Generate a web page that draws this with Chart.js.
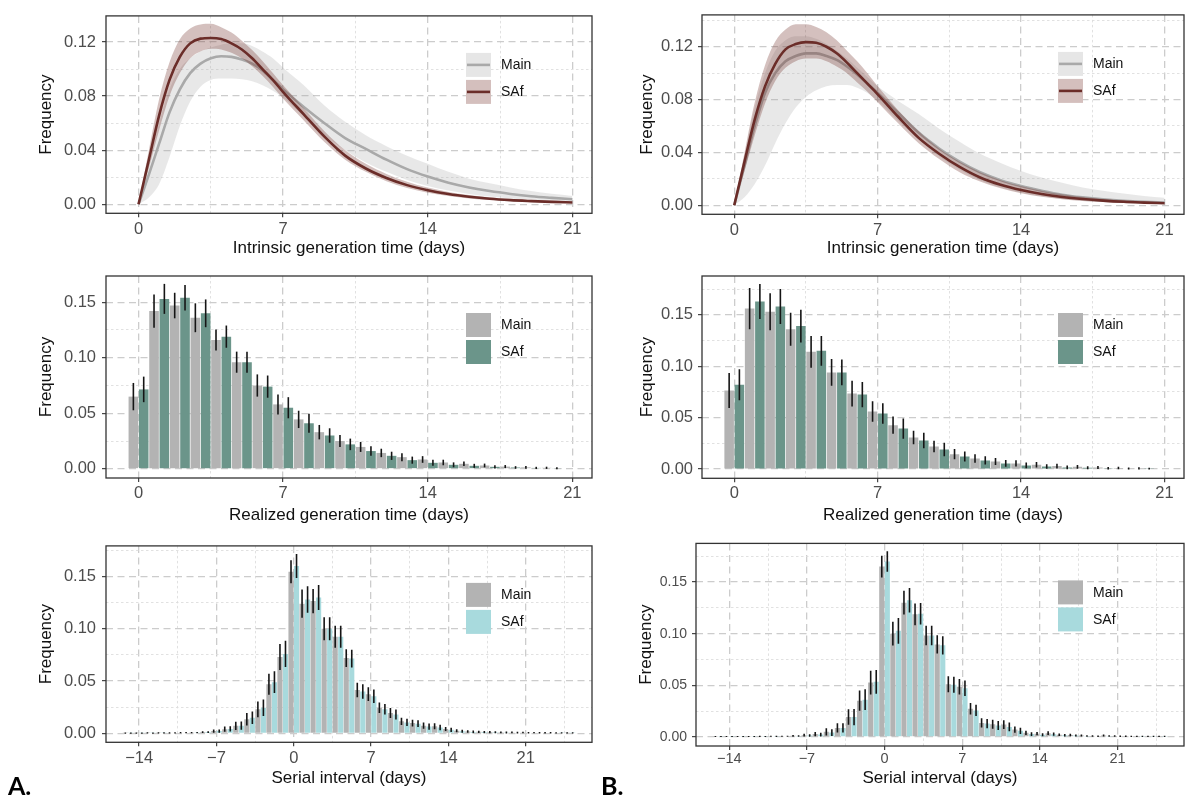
<!DOCTYPE html>
<html>
<head>
<meta charset="utf-8">
<script src="https://cdn.jsdelivr.net/npm/chart.js@4.4.1/dist/chart.umd.min.js"></script>
<style>
    body { margin: 0; background: #fff; width: 1192px; height: 796px; position: relative; overflow: hidden; }
    .panel { position: absolute; }
    .tag { position: absolute; font-family: Lato, "Liberation Sans", sans-serif; font-weight: bold; font-size: 25px; line-height: 25px; color: #000; }
</style>
</head>
<body>
<div class="panel" style="left:0;top:0"><canvas id="a1" width="600" height="260"></canvas></div>
<div class="panel" style="left:0;top:260px"><canvas id="a2" width="600" height="270"></canvas></div>
<div class="panel" style="left:0;top:530px"><canvas id="a3" width="600" height="266"></canvas></div>
<div class="panel" style="left:600px;top:0"><canvas id="b1" width="592" height="260"></canvas></div>
<div class="panel" style="left:600px;top:260px"><canvas id="b2" width="592" height="270"></canvas></div>
<div class="panel" style="left:600px;top:530px"><canvas id="b3" width="592" height="266"></canvas></div>
<div class="tag" style="left:8px;top:773px">A.</div>
<div class="tag" style="left:601px;top:773px">B.</div>
<script>
const FONT = '"Liberation Sans", Arial, sans-serif';

// ---- intrinsic generation time curves (x in days) ----
const curveDays = [0, 0.5, 1, 1.5, 2, 2.5, 3, 3.5, 4, 4.5, 5, 5.5, 6, 6.5, 7, 8, 9, 10, 11, 12, 13, 14, 15, 16, 17, 18, 19, 20, 21];

const a1MainMid = [0, 0.022, 0.045, 0.068, 0.085, 0.097, 0.104, 0.108, 0.1095, 0.109, 0.107, 0.104, 0.099, 0.092, 0.085, 0.072, 0.060, 0.049, 0.041, 0.033, 0.026, 0.0205, 0.016, 0.0125, 0.0098, 0.0077, 0.006, 0.0048, 0.0038];
const a1MainHi = [0, 0.030, 0.060, 0.085, 0.100, 0.108, 0.113, 0.116, 0.118, 0.119, 0.119, 0.117, 0.113, 0.108, 0.101, 0.088, 0.073, 0.061, 0.051, 0.043, 0.036, 0.030, 0.024, 0.019, 0.0155, 0.0125, 0.0098, 0.0078, 0.0062];
const a1MainLo = [0, 0.005, 0.015, 0.035, 0.058, 0.076, 0.087, 0.092, 0.093, 0.093, 0.0925, 0.091, 0.088, 0.084, 0.079, 0.065, 0.051, 0.040, 0.031, 0.024, 0.018, 0.0135, 0.0102, 0.0077, 0.0058, 0.0044, 0.0034, 0.0026, 0.002];
const a1SafMid = [0, 0.033, 0.066, 0.092, 0.109, 0.119, 0.1225, 0.123, 0.1222, 0.119, 0.1145, 0.108, 0.100, 0.092, 0.083, 0.0665, 0.050, 0.036, 0.0265, 0.0195, 0.0142, 0.0104, 0.0076, 0.0056, 0.0041, 0.0031, 0.0024, 0.0018, 0.0014];
const a1SafHi = [0, 0.040, 0.078, 0.105, 0.122, 0.130, 0.133, 0.1335, 0.131, 0.127, 0.121, 0.114, 0.106, 0.097, 0.088, 0.071, 0.054, 0.040, 0.030, 0.0225, 0.0167, 0.0124, 0.0092, 0.0069, 0.0052, 0.004, 0.0032, 0.0026, 0.0021];
const a1SafLo = [0, 0.027, 0.055, 0.080, 0.097, 0.108, 0.113, 0.115, 0.1145, 0.112, 0.108, 0.102, 0.095, 0.087, 0.078, 0.062, 0.046, 0.033, 0.024, 0.017, 0.012, 0.0085, 0.0061, 0.0044, 0.0032, 0.0024, 0.0018, 0.0013, 0.001];

const b1MainMid = [0, 0.030, 0.060, 0.085, 0.100, 0.109, 0.113, 0.115, 0.115, 0.113, 0.110, 0.105, 0.099, 0.092, 0.085, 0.070, 0.055, 0.043, 0.033, 0.025, 0.019, 0.0145, 0.011, 0.008, 0.006, 0.0045, 0.0034, 0.0026, 0.002];
const b1MainHi = [0, 0.038, 0.074, 0.100, 0.117, 0.125, 0.128, 0.128, 0.126, 0.122, 0.117, 0.111, 0.104, 0.097, 0.090, 0.079, 0.069, 0.058, 0.048, 0.039, 0.032, 0.026, 0.021, 0.017, 0.0135, 0.011, 0.0088, 0.007, 0.0057];
const b1MainLo = [0, 0.006, 0.016, 0.030, 0.047, 0.062, 0.074, 0.082, 0.087, 0.090, 0.091, 0.091, 0.089, 0.085, 0.079, 0.064, 0.050, 0.037, 0.027, 0.019, 0.0135, 0.0095, 0.0068, 0.0048, 0.0034, 0.0024, 0.0017, 0.0012, 0.0009];
const b1SafMid = [0, 0.033, 0.065, 0.090, 0.107, 0.118, 0.122, 0.1235, 0.123, 0.120, 0.115, 0.108, 0.100, 0.092, 0.084, 0.067, 0.051, 0.039, 0.029, 0.021, 0.0155, 0.0115, 0.0085, 0.0063, 0.0047, 0.0035, 0.0026, 0.002, 0.0015];
const b1SafHi = [0, 0.040, 0.078, 0.106, 0.124, 0.133, 0.137, 0.137, 0.135, 0.131, 0.125, 0.117, 0.109, 0.100, 0.090, 0.072, 0.056, 0.043, 0.033, 0.025, 0.019, 0.0145, 0.011, 0.0083, 0.0063, 0.0048, 0.0037, 0.0029, 0.0023];
const b1SafLo = [0, 0.026, 0.053, 0.077, 0.094, 0.104, 0.109, 0.111, 0.111, 0.109, 0.105, 0.100, 0.093, 0.086, 0.078, 0.062, 0.047, 0.035, 0.025, 0.018, 0.0128, 0.009, 0.0064, 0.0046, 0.0033, 0.0024, 0.0017, 0.0012, 0.0009];

// ---- realized generation time (bars) ----
const genDays = [0, 1, 2, 3, 4, 5, 6, 7, 8, 9, 10, 11, 12, 13, 14, 15, 16, 17, 18, 19, 20];
const a2Main = [0.065, 0.142, 0.147, 0.136, 0.116, 0.096, 0.075, 0.058, 0.0445, 0.033, 0.025, 0.0197, 0.0143, 0.0105, 0.0084, 0.0057, 0.0045, 0.003, 0.002, 0.0013, 0.0009];
const a2MainErr = [0.0123, 0.015, 0.0115, 0.013, 0.0095, 0.0095, 0.010, 0.009, 0.0078, 0.0065, 0.0054, 0.0045, 0.0038, 0.0036, 0.003, 0.0025, 0.002, 0.0017, 0.0014, 0.0012, 0.001];
const a2Saf = [0.0715, 0.153, 0.154, 0.140, 0.119, 0.096, 0.074, 0.055, 0.041, 0.030, 0.022, 0.016, 0.0117, 0.0078, 0.0054, 0.0036, 0.0027, 0.0018, 0.0012, 0.0008, 0.0005];
const a2SafErr = [0.0115, 0.0135, 0.0115, 0.0125, 0.010, 0.0095, 0.010, 0.0095, 0.0085, 0.0065, 0.0052, 0.0043, 0.0037, 0.0032, 0.0027, 0.0022, 0.0018, 0.0015, 0.0012, 0.001, 0.0008];

const b2Main = [0.0763, 0.156, 0.153, 0.136, 0.114, 0.094, 0.0734, 0.056, 0.0427, 0.0307, 0.022, 0.0145, 0.0103, 0.0074, 0.0055, 0.0042, 0.0029, 0.0022, 0.0015, 0.001, 0.0007];
const b2MainErr = [0.017, 0.020, 0.018, 0.016, 0.0155, 0.013, 0.0125, 0.010, 0.0084, 0.0065, 0.0055, 0.005, 0.0042, 0.0035, 0.003, 0.0026, 0.0022, 0.0018, 0.0015, 0.0012, 0.001];
const b2Saf = [0.082, 0.163, 0.158, 0.139, 0.115, 0.094, 0.0724, 0.054, 0.0394, 0.0278, 0.019, 0.0123, 0.0084, 0.0055, 0.0036, 0.0026, 0.0016, 0.0013, 0.0009, 0.0006, 0.0004];
const b2SafErr = [0.015, 0.017, 0.017, 0.016, 0.0145, 0.0125, 0.0122, 0.010, 0.0099, 0.0076, 0.0065, 0.0049, 0.004, 0.0033, 0.0028, 0.0022, 0.0018, 0.0015, 0.0012, 0.001, 0.0008];

// ---- serial interval (bars) ----
const siDays = [-15, -14, -13, -12, -11, -10, -9, -8, -7, -6, -5, -4, -3, -2, -1, 0, 1, 2, 3, 4, 5, 6, 7, 8, 9, 10, 11, 12, 13, 14, 15, 16, 17, 18, 19, 20, 21, 22, 23, 24, 25];
const a3Main = [0.0003, 0.0003, 0.0004, 0.0004, 0.0005, 0.0006, 0.0008, 0.0012, 0.0022, 0.0040, 0.0072, 0.0135, 0.0230, 0.0470, 0.0730, 0.1545, 0.1240, 0.1265, 0.1000, 0.0925, 0.0720, 0.0415, 0.0375, 0.0245, 0.0195, 0.0115, 0.0098, 0.0074, 0.0068, 0.0042, 0.0025, 0.0018, 0.0015, 0.0012, 0.0010, 0.0009, 0.0008, 0.0007, 0.0006, 0.0005, 0.0004];
const a3MainErr = [0.0006, 0.0006, 0.0006, 0.0006, 0.0006, 0.0006, 0.0006, 0.0008, 0.0015, 0.0025, 0.004, 0.006, 0.0075, 0.010, 0.0125, 0.011, 0.0135, 0.0115, 0.011, 0.0105, 0.0085, 0.007, 0.0065, 0.005, 0.0048, 0.0035, 0.0033, 0.003, 0.0028, 0.002, 0.0015, 0.0013, 0.0011, 0.001, 0.0009, 0.0008, 0.0008, 0.0007, 0.0007, 0.0006, 0.0006];
const a3Saf = [0.0003, 0.0003, 0.0003, 0.0004, 0.0005, 0.0006, 0.0008, 0.0012, 0.0022, 0.0042, 0.0074, 0.0150, 0.0245, 0.0490, 0.0760, 0.1600, 0.1280, 0.1300, 0.1000, 0.0925, 0.0715, 0.0400, 0.0355, 0.0230, 0.0180, 0.0105, 0.0093, 0.0065, 0.0056, 0.0034, 0.0020, 0.0014, 0.0012, 0.0010, 0.0008, 0.0007, 0.0006, 0.0005, 0.0005, 0.0004, 0.0004];
const a3SafErr = [0.0006, 0.0006, 0.0006, 0.0006, 0.0006, 0.0006, 0.0006, 0.0008, 0.0015, 0.0025, 0.004, 0.006, 0.0078, 0.0105, 0.0125, 0.0115, 0.0127, 0.012, 0.011, 0.0105, 0.0085, 0.007, 0.0065, 0.005, 0.0048, 0.0035, 0.0033, 0.003, 0.0027, 0.002, 0.0015, 0.0013, 0.0011, 0.001, 0.0009, 0.0008, 0.0008, 0.0007, 0.0007, 0.0006, 0.0006];

const b3Main = [0.0002, 0.0002, 0.0003, 0.0003, 0.0004, 0.0005, 0.0006, 0.0009, 0.0016, 0.0026, 0.0048, 0.0086, 0.0191, 0.0350, 0.0526, 0.1650, 0.1000, 0.1300, 0.1187, 0.0982, 0.0896, 0.0510, 0.0485, 0.0272, 0.0134, 0.0122, 0.0118, 0.0070, 0.0038, 0.0030, 0.0035, 0.0020, 0.0018, 0.0012, 0.0008, 0.0012, 0.0008, 0.0006, 0.0005, 0.0005, 0.0004];
const b3MainErr = [0.0005, 0.0005, 0.0005, 0.0005, 0.0005, 0.0005, 0.0005, 0.0008, 0.0014, 0.002, 0.0035, 0.0045, 0.0075, 0.0098, 0.0115, 0.0105, 0.0115, 0.0115, 0.0105, 0.0095, 0.0088, 0.0078, 0.0075, 0.0055, 0.0045, 0.0043, 0.0042, 0.003, 0.002, 0.0016, 0.0018, 0.0013, 0.0012, 0.001, 0.0008, 0.001, 0.0008, 0.0007, 0.0006, 0.0006, 0.0005];
const b3Saf = [0.0002, 0.0002, 0.0002, 0.0003, 0.0003, 0.0004, 0.0005, 0.0008, 0.0013, 0.0021, 0.0041, 0.0086, 0.0191, 0.0360, 0.0533, 0.1700, 0.1027, 0.1324, 0.1193, 0.0982, 0.0887, 0.0504, 0.0470, 0.0256, 0.0128, 0.0109, 0.0096, 0.0058, 0.0026, 0.0020, 0.0025, 0.0015, 0.0012, 0.0008, 0.0006, 0.0008, 0.0006, 0.0005, 0.0004, 0.0004, 0.0004];
const b3SafErr = [0.0005, 0.0005, 0.0005, 0.0005, 0.0005, 0.0005, 0.0005, 0.0007, 0.0012, 0.0018, 0.0033, 0.0045, 0.0078, 0.010, 0.0115, 0.010, 0.0125, 0.0118, 0.0105, 0.0095, 0.0088, 0.0078, 0.0075, 0.0055, 0.0045, 0.0043, 0.0042, 0.003, 0.0018, 0.0014, 0.0016, 0.0012, 0.001, 0.0008, 0.0007, 0.0008, 0.0007, 0.0006, 0.0005, 0.0005, 0.0005];

// ---- axis ticks ----
const genMajor = [0, 7, 14, 21];
const genMinor = [3.5, 10.5, 17.5];
const siMajor = [-14, -7, 0, 7, 14, 21];
const siMinor = [-10.5, -3.5, 3.5, 10.5, 17.5, 24.5];
const curveYMajor = [0, 0.04, 0.08, 0.12];
const curveYMinor = [0.02, 0.06, 0.10, 0.14];
const barYMajor = [0, 0.05, 0.10, 0.15];
const barYMinor = [0.025, 0.075, 0.125, 0.175];

const COL = {
    mainLine: '#a9a9a9',
    mainRibbon: 'rgba(165, 165, 165, 0.26)',
    mainKey: '#e6e6e6',
    safLine: '#6b2d29',
    safRibbon: 'rgba(112, 45, 40, 0.3)',
    safKey: '#d4bfbd',
    grey: '#b3b3b3',
    green: '#6b958a',
    cyan: '#a8dadd'
};

const fmtX = v => (v < 0 ? '\u2212' + Math.abs(v) : String(v));
const fmtY = v => v.toFixed(2);

function makeScale(axis, cfg) {
    const minorSet = new Set(cfg.minor);
    const isMinor = c => !!(c && c.tick && minorSet.has(c.tick.value));
    const all = cfg.major.concat(cfg.minor)
        .filter(v => v >= cfg.min && v <= cfg.max)
        .sort((p, q) => p - q);
    return {
        type: 'linear',
        min: cfg.min,
        max: cfg.max,
        offset: false,
        afterBuildTicks: s => { s.ticks = all.map(v => ({ value: v })); },
        afterFit: s => {
            if (axis === 'x') s.height = cfg.size;
            else s.width = cfg.size;
        },
        grid: {
            offset: false,
            tickLength: 4,
            tickWidth: 1.1,
            color: c => (isMinor(c) ? '#dedede' : '#cccccc'),
            lineWidth: c => (isMinor(c) ? 0.9 : 1.3),
            tickColor: c => (isMinor(c) ? 'rgba(0,0,0,0)' : '#333333')
        },
        border: { display: false, dash: c => (isMinor(c) ? [2.5, 2.5] : [7, 4.5]) },
        ticks: {
            autoSkip: false,
            maxRotation: 0,
            minRotation: 0,
            padding: cfg.tickPad,
            color: '#4d4d4d',
            font: { family: FONT, size: cfg.tickSize || 16.5 },
            callback: v => (minorSet.has(v) ? '' : cfg.fmt(v))
        },
        title: {
            display: true,
            text: cfg.title,
            color: '#111111',
            font: { family: FONT, size: 17 },
            padding: cfg.titlePad
        }
    };
}

const panelBox = {
    id: 'panelBox',
    afterDraw(chart) {
        const { ctx, chartArea: a } = chart;
        ctx.save();
        ctx.strokeStyle = '#333333';
        ctx.lineWidth = 1.3;
        ctx.strokeRect(a.left, a.top, a.right - a.left, a.bottom - a.top);
        ctx.restore();
    }
};

const errorBars = {
    id: 'errorBars',
    afterDatasetsDraw(chart) {
        const { ctx, chartArea: a } = chart;
        const y = chart.scales.y;
        ctx.save();
        ctx.beginPath();
        ctx.rect(a.left, a.top, a.right - a.left, a.bottom - a.top);
        ctx.clip();
        ctx.strokeStyle = '#151515';
        ctx.lineWidth = 1.6;
        chart.data.datasets.forEach((ds, i) => {
            if (!ds.errors) return;
            chart.getDatasetMeta(i).data.forEach((bar, j) => {
                const v = ds.data[j].y;
                const e = ds.errors[j];
                ctx.beginPath();
                ctx.moveTo(bar.x, y.getPixelForValue(v - e));
                ctx.lineTo(bar.x, y.getPixelForValue(v + e));
                ctx.stroke();
            });
        });
        ctx.restore();
    }
};

const keyLegend = {
    id: 'keyLegend',
    afterDraw(chart, args, opts) {
        const { ctx, chartArea: a } = chart;
        const x0 = a.right - opts.right;
        const y0 = a.top + opts.top;
        ctx.save();
        opts.items.forEach((it, i) => {
            const y = y0 + i * 27;
            ctx.fillStyle = it.fill;
            ctx.fillRect(x0, y, 25, 24);
            if (it.line) {
                ctx.strokeStyle = it.line;
                ctx.lineWidth = 2.6;
                ctx.beginPath();
                ctx.moveTo(x0 + 1, y + 12);
                ctx.lineTo(x0 + 24, y + 12);
                ctx.stroke();
            }
            ctx.fillStyle = '#111111';
            ctx.font = '14px ' + FONT;
            ctx.textAlign = 'left';
            ctx.textBaseline = 'middle';
            ctx.fillText(it.label, x0 + 35, y + 12.5);
        });
        ctx.restore();
    }
};

const pts = (xs, ys) => xs.map((x, i) => ({ x, y: ys[i] }));

function baseOptions(p, xCfg, yCfg, legendItems) {
    return {
        responsive: false,
        animation: false,
        layout: { padding: { left: 0, top: p.top, right: p.right, bottom: 0 } },
        plugins: {
            legend: { display: false },
            tooltip: { enabled: false },
            keyLegend: { right: 126, top: 37, items: legendItems }
        },
        scales: {
            x: makeScale('x', xCfg),
            y: makeScale('y', yCfg)
        }
    };
}

function lineChart(id, p, series) {
    const line = (data, color) => ({
        data: pts(curveDays, data), borderColor: color, borderWidth: 2.6,
        pointRadius: 0, fill: false, cubicInterpolationMode: 'monotone'
    });
    const band = (data, color) => ({
        data: pts(curveDays, data), borderColor: 'rgba(0,0,0,0)', borderWidth: 0,
        pointRadius: 0, backgroundColor: color, fill: color ? '+1' : false,
        cubicInterpolationMode: 'monotone'
    });
    new Chart(document.getElementById(id), {
        type: 'line',
        data: {
            datasets: [
                line(series.safMid, COL.safLine),
                band(series.safHi, COL.safRibbon),
                band(series.safLo, null),
                line(series.mainMid, COL.mainLine),
                band(series.mainHi, COL.mainRibbon),
                band(series.mainLo, null)
            ]
        },
        options: baseOptions(p,
            { min: -1.575, max: 21.95, major: genMajor, minor: genMinor, fmt: fmtX, size: p.xH, tickPad: p.xPad, titlePad: { top: 0, bottom: p.xTitle }, title: 'Intrinsic generation time (days)' },
            { min: p.yMin, max: p.yMax, major: curveYMajor, minor: curveYMinor, fmt: fmtY, size: p.yW, tickPad: p.yPad, tickSize: p.yFont, titlePad: { top: p.yTitle, bottom: 0 }, title: 'Frequency' },
            [
                { label: 'Main', fill: COL.mainKey, line: COL.mainLine },
                { label: 'SAf', fill: COL.safKey, line: COL.safLine }
            ]),
        plugins: [keyLegend, panelBox]
    });
}

function barChart(id, p, days, main, mainErr, saf, safErr, safColor, xr, title) {
    const bars = (label, data, err, color) => ({
        label, data: pts(days, data), errors: err, backgroundColor: color,
        barPercentage: 0.93, categoryPercentage: 1
    });
    new Chart(document.getElementById(id), {
        type: 'bar',
        data: {
            datasets: [
                bars('Main', main, mainErr, COL.grey),
                bars('SAf', saf, safErr, safColor)
            ]
        },
        options: baseOptions(p,
            { min: xr.min, max: xr.max, major: xr.major, minor: xr.minor, fmt: fmtX, size: p.xH, tickPad: p.xPad, tickSize: p.xFont, titlePad: { top: 0, bottom: p.xTitle }, title },
            { min: p.yMin, max: p.yMax, major: barYMajor, minor: barYMinor, fmt: fmtY, size: p.yW, tickPad: p.yPad, tickSize: p.yFont, titlePad: { top: p.yTitle, bottom: 0 }, title: 'Frequency' },
            [
                { label: 'Main', fill: COL.grey },
                { label: 'SAf', fill: safColor }
            ]),
        plugins: [errorBars, keyLegend, panelBox]
    });
}

const genRange = { min: -1.575, max: 21.95, major: genMajor, minor: genMinor };
const siRange = { min: -17, max: 27, major: siMajor, minor: siMinor };

lineChart('a1',
    { top: 13.3, right: 8, yW: 106, xH: 46.7, xPad: 2, xTitle: 1.8, yPad: 6, yTitle: 35.8, yMin: -0.00663, yMax: 0.1393 },
    { mainMid: a1MainMid, mainHi: a1MainHi, mainLo: a1MainLo, safMid: a1SafMid, safHi: a1SafHi, safLo: a1SafLo });

lineChart('b1',
    { top: 11.7, right: 8, yW: 102, xH: 45.7, xPad: 2, xTitle: 1.8, yPad: 5, yTitle: 36.8, yMin: -0.00686, yMax: 0.1441 },
    { mainMid: b1MainMid, mainHi: b1MainHi, mainLo: b1MainLo, safMid: b1SafMid, safHi: b1SafHi, safLo: b1SafLo });

barChart('a2',
    { top: 16, right: 8, yW: 106, xH: 52, xPad: 1.5, xTitle: 4.8, yPad: 6, yTitle: 35.8, yMin: -0.00827, yMax: 0.1736 },
    genDays, a2Main, a2MainErr, a2Saf, a2SafErr, COL.green, genRange, 'Realized generation time (days)');

barChart('b2',
    { top: 16, right: 8, yW: 102, xH: 51.7, xPad: 1.5, xTitle: 4.8, yPad: 5, yTitle: 36.8, yMin: -0.00894, yMax: 0.1877 },
    genDays, b2Main, b2MainErr, b2Saf, b2SafErr, COL.green, genRange, 'Realized generation time (days)');

barChart('a3',
    { top: 10.7, right: 8, yW: 106, xH: 53.7, xPad: 2, xTitle: 7.8, yPad: 6, yTitle: 35.8, yMin: -0.00854, yMax: 0.1793 },
    siDays, a3Main, a3MainErr, a3Saf, a3SafErr, COL.cyan, siRange, 'Serial interval (days)');

barChart('b3',
    { top: 11.7, right: 8, yW: 96, xH: 50, xPad: 0.5, xTitle: 7.8, xFont: 14.5, yPad: 5, yFont: 14, yTitle: 35.8, yMin: -0.00893, yMax: 0.1875 },
    siDays, b3Main, b3MainErr, b3Saf, b3SafErr, COL.cyan, siRange, 'Serial interval (days)');
</script>
</body>
</html>
